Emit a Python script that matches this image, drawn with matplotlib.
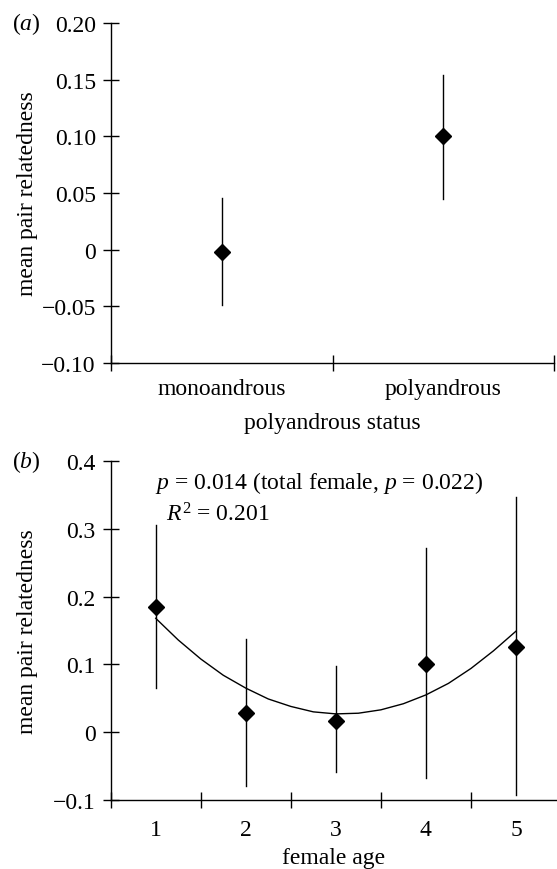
import matplotlib
matplotlib.use("Agg")
import matplotlib.pyplot as plt

plt.rcParams['font.family'] = ['Liberation Serif', 'DejaVu Serif']
plt.rcParams['mathtext.fontset'] = 'custom'
plt.rcParams['mathtext.rm'] = 'Liberation Serif'
plt.rcParams['mathtext.it'] = 'Liberation Serif:italic'
FS = 17
plt.rcParams['font.size'] = FS

# ---- panel (a) data ----
status_labels = ["monoandrous", "polyandrous"]
status_mean = [-0.002, 0.100]
status_low = [-0.049, 0.045]
status_high = [0.046, 0.154]
a_yticks = [-0.10, -0.05, 0.0, 0.05, 0.10, 0.15, 0.20]
a_yticklabels = ["\u22120.10", "\u22120.05", "0", "0.05", "0.10", "0.15", "0.20"]

# ---- panel (b) data ----
ages = [1, 2, 3, 4, 5]
age_mean = [0.185, 0.029, 0.017, 0.100, 0.126]
age_low = [0.065, -0.080, -0.059, -0.068, -0.092]
age_high = [0.305, 0.138, 0.097, 0.271, 0.347]
fit_x = [1, 1.25, 1.5, 1.75, 2, 2.25, 2.5, 2.75, 3, 3.25, 3.5, 3.75, 4, 4.25, 4.5, 4.75, 5]
fit_y = [0.168, 0.136, 0.108, 0.084, 0.065, 0.049, 0.038, 0.030, 0.027,
         0.028, 0.033, 0.042, 0.055, 0.072, 0.094, 0.120, 0.149]
b_yticks = [-0.1, 0.0, 0.1, 0.2, 0.3, 0.4]
b_yticklabels = ["\u22120.1", "0", "0.1", "0.2", "0.3", "0.4"]

W, H = 557, 870
fig = plt.figure(figsize=(W / 100, H / 100), dpi=100)

def px_axes(l, r, t, b):
    return fig.add_axes([l / W, 1 - b / H, (r - l) / W, (b - t) / H])

A_L, A_R, A_T, A_B = 110.7, 554.3, 24, 364
B_L, B_R, B_T, B_B = 110.7, 556.5, 462, 801
axa = px_axes(A_L, A_R, A_T, A_B)
axb = px_axes(B_L, B_R, B_T, B_B)

def style(ax):
    for s in ("top", "right"):
        ax.spines[s].set_visible(False)
    for s in ("left", "bottom"):
        ax.spines[s].set_linewidth(1.0)
    ax.tick_params(axis="y", which="major", direction="inout", length=11.5, width=1.0, pad=5)
    ax.tick_params(axis="x", which="major", direction="inout", length=11.5, width=1.0, labelbottom=False)
    ax.tick_params(axis="x", which="minor", length=0)

# ---- panel (a) ----
xa = [1, 2]
for x, lo, hi in zip(xa, status_low, status_high):
    axa.plot([x, x], [lo, hi], color="black", lw=1.0)
axa.plot(xa, status_mean, "D", color="black", ms=8.5, ls="none")
axa.set_xlim(0.5, 2.5)
axa.set_ylim(-0.10, 0.20)
style(axa)
axa.set_yticks(a_yticks)
axa.set_yticklabels(a_yticklabels)
axa.set_xticks([0.5, 1.5, 2.5])
axa.set_xticks(xa, minor=True)
axa.set_xticklabels(status_labels, minor=True)
axa.tick_params(axis="x", which="minor", pad=11)
axa.set_xlabel("polyandrous status", labelpad=9)
axa.set_ylabel("mean pair relatedness")
axa.yaxis.set_label_coords((28 - A_L) / (A_R - A_L), 0.5)
axa.yaxis.label.set_va("center")
fig.text(12 / W, 1 - 24 / H, r"($\it{a}$)", ha="left", va="center", fontsize=FS)

# ---- panel (b) ----
for x, lo, hi in zip(ages, age_low, age_high):
    axb.plot([x, x], [lo, hi], color="black", lw=1.0)
axb.plot(fit_x, fit_y, color="black", lw=1.0)
axb.plot(ages, age_mean, "D", color="black", ms=8.5, ls="none")
axb.set_xlim(0.5, 5.45)
axb.set_ylim(-0.1, 0.4)
style(axb)
axb.set_yticks(b_yticks)
axb.set_yticklabels(b_yticklabels)
axb.set_xticks([0.5, 1.5, 2.5, 3.5, 4.5])
axb.set_xticks(ages, minor=True)
axb.set_xticklabels([str(a) for a in ages], minor=True)
axb.tick_params(axis="x", which="minor", pad=13.5)
axb.set_xlabel("female age", labelpad=5)
axb.set_ylabel("mean pair relatedness")
axb.yaxis.set_label_coords((28 - B_L) / (B_R - B_L), 0.5)
axb.yaxis.label.set_va("center")
fig.text(12 / W, 1 - 461.7 / H, r"($\it{b}$)", ha="left", va="center", fontsize=FS)

axb.text((155 - B_L) / (B_R - B_L), (B_B - 483) / (B_B - B_T),
         r"$\it{p}$ = 0.014 (total female, $\it{p}$ = 0.022)",
         transform=axb.transAxes, ha="left", va="center", fontsize=FS)
axb.text((165.7 - B_L) / (B_R - B_L), (B_B - 515) / (B_B - B_T),
         r"$\it{R}^2$ = 0.201",
         transform=axb.transAxes, ha="left", va="center", fontsize=FS)

fig.savefig("out.png", dpi=100)
